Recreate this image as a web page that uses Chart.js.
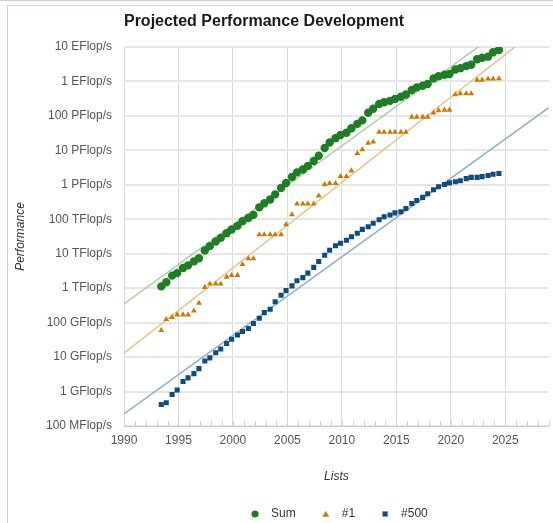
<!DOCTYPE html>
<html><head><meta charset="utf-8">
<script src="https://cdn.jsdelivr.net/npm/chart.js@4.4.0/dist/chart.umd.min.js"></script>
<style>
html,body{margin:0;padding:0;background:#fff;}
#wrap{position:relative;width:553px;height:523px;overflow:hidden;}
#topline{position:absolute;left:0;top:0;width:553px;height:1px;background:#d8c8cc;}
#frame{position:absolute;left:7px;top:5px;width:600px;height:600px;border:1px solid #d2d2d2;box-sizing:border-box;}
canvas{position:absolute;left:0;top:0;}
</style></head><body>
<div id="wrap"><div id="topline"></div><div id="frame"></div><canvas id="c" width="553" height="523"></canvas></div>
<script>
// List dates (June / November lists)
const listDates = [
 1993.42,1993.88,1994.42,1994.88,1995.42,1995.88,1996.42,1996.88,1997.42,1997.88,
 1998.42,1998.88,1999.42,1999.88,2000.42,2000.88,2001.42,2001.88,2002.42,2002.88,
 2003.42,2003.88,2004.42,2004.88,2005.42,2005.88,2006.42,2006.88,2007.42,2007.88,
 2008.42,2008.88,2009.42,2009.88,2010.42,2010.88,2011.42,2011.88,2012.42,2012.88,
 2013.42,2013.88,2014.42,2014.88,2015.42,2015.88,2016.42,2016.88,2017.42,2017.88,
 2018.42,2018.88,2019.42,2019.88,2020.42,2020.88,2021.42,2021.88,2022.42,2022.88,
 2023.42,2023.88,2024.42
];
// Values in GFlop/s
const sumValues = [
 1128,1493,2317,2732,3850,4600,6000,7400,12400,16600,
 22600,28800,39200,50400,64200,88000,108500,134000,222000,293000,
 374000,528000,813000,1127000,1690000,2300000,2790000,3540000,4920000,6970000,
 11700000,16950000,22600000,27950000,32400000,43700000,58900000,74200000,123000000,162000000,
 223000000,250000000,274000000,309000000,361000000,420000000,566000000,672000000,749000000,845000000,
 1220000000,1417000000,1560000000,1650000000,2220000000,2430000000,2790000000,3040000000,4400000000,4860000000,
 5240000000,7010000000,8210000000
];
const top1Values = [
 59.7,124,143.4,170,170,170,220.4,368.2,1068,1338,
 1338,1338,2121,2379,2379,4938,7226,7226,35860,35860,
 35860,35860,35860,70720,136800,280600,280600,280600,280600,478200,
 1026000,1105000,1105000,1759000,1759000,2566000,8162000,10510000,16320000,17590000,
 33860000,33860000,33860000,33860000,33860000,33860000,93010000,93010000,93010000,93010000,
 122300000,143500000,148600000,148600000,415500000,442000000,442000000,442000000,1102000000,1102000000,
 1194000000,1194000000,1206000000
];
const top500Values = [
 0.422,0.472,0.822,1.114,1.955,2.489,3.306,4.619,7.667,9.513,
 13.39,17.12,24.73,33.08,43.82,55.1,67.78,94.3,134.3,195.8,
 245.1,403.4,624,850.6,1166,1646,2026,2737,4005,5929,
 9000,12640,17090,20050,24670,31120,39090,50900,60820,76500,
 96620,117800,133700,153400,164800,206300,286100,349300,432200,548700,
 715600,874800,1022000,1142000,1228000,1317000,1511000,1649000,1646000,1730000,
 1870000,2020000,2130000
];
// Projection (trend) lines, endpoints in GFlop/s
const trendYears = [1990, 2029];
const trendSum = [349, 3.09e11];
const trendTop1 = [13.06, 5.89e10];
const trendTop500 = [0.224, 1.74e8];

const xTickValues = [1990,1995,2000,2005,2010,2015,2020,2025];
const yTickValues = [0.1,1,10,100,1e3,1e4,1e5,1e6,1e7,1e8,1e9,1e10];
const yTickLabels = ['100 MFlop/s','1 GFlop/s','10 GFlop/s','100 GFlop/s','1 TFlop/s','10 TFlop/s',
 '100 TFlop/s','1 PFlop/s','10 PFlop/s','100 PFlop/s','1 EFlop/s','10 EFlop/s'];
const seriesLabels = ['Sum','#1','#500'];
const chartTitle = 'Projected Performance Development';

const C_SUM = '#1f7d24', C_TOP1 = '#cc7a00', C_500 = '#0f4c81';

function makeIcon(kind, color) {
  const c = document.createElement('canvas'); c.width = 10; c.height = 10;
  const g = c.getContext('2d'); g.fillStyle = color; g.beginPath();
  if (kind === 'circle') { g.arc(5, 5, 3.6, 0, Math.PI * 2); }
  else if (kind === 'triangle') { g.moveTo(5, 1.8); g.lineTo(8.4, 7.8); g.lineTo(1.6, 7.8); g.closePath(); }
  else { g.rect(2.4, 2.4, 5.2, 5.2); }
  g.fill();
  return c;
}
const legendIcons = [makeIcon('circle', C_SUM), makeIcon('triangle', C_TOP1), makeIcon('rect', C_500)];

const pts = (xs, ys) => ys.map((v, i) => ({x: xs[i], y: v}));

const decor = {
  id: 'decor',
  beforeDatasetsDraw(chart) {
    const {ctx, chartArea, scales: {x}} = chart;
    ctx.save();
    ctx.strokeStyle = '#cfcfcf'; ctx.lineWidth = 1;
    for (let yr = Math.ceil(x.min); yr <= x.max; yr++) {
      const px = Math.round(x.getPixelForValue(yr)) + 0.5;
      ctx.beginPath(); ctx.moveTo(px, chartArea.bottom); ctx.lineTo(px, chartArea.bottom - 5); ctx.stroke();
    }
    ctx.restore();
  },
  afterDraw(chart) {
    const ctx = chart.ctx;
    ctx.save();
    ctx.font = 'bold 16px "Liberation Sans", Arial, sans-serif';
    ctx.fillStyle = '#1a1a1a'; ctx.textAlign = 'center'; ctx.textBaseline = 'alphabetic';
    ctx.fillText(chartTitle, 264, 25.5);
    ctx.restore();
  }
};

Chart.defaults.font.family = '"Liberation Sans", Arial, sans-serif';

new Chart(document.getElementById('c'), {
  type: 'scatter',
  data: { datasets: [
    { label: seriesLabels[0], data: pts(listDates, sumValues), pointStyle: 'circle', pointRadius: 4.2,
      backgroundColor: C_SUM, borderColor: C_SUM, borderWidth: 0, pointBorderWidth: 0, order: 0 },
    { label: seriesLabels[1], data: pts(listDates, top1Values), pointStyle: 'triangle', pointRadius: 3.4,
      backgroundColor: C_TOP1, borderColor: C_TOP1, borderWidth: 0, pointBorderWidth: 0, order: 0 },
    { label: seriesLabels[2], data: pts(listDates, top500Values), pointStyle: 'rect', pointRadius: 3.6,
      backgroundColor: C_500, borderColor: C_500, borderWidth: 0, pointBorderWidth: 0, order: 0 },
    { label: 'Sum trend', data: pts(trendYears, trendSum), showLine: true, pointRadius: 0,
      borderColor: '#a6d3a6', borderWidth: 1.5, order: 1 },
    { label: '#1 trend', data: pts(trendYears, trendTop1), showLine: true, pointRadius: 0,
      borderColor: '#e9c28e', borderWidth: 1.5, order: 1 },
    { label: '#500 trend', data: pts(trendYears, trendTop500), showLine: true, pointRadius: 0,
      borderColor: '#90afca', borderWidth: 1.5, order: 1 }
  ]},
  options: {
    responsive: false, animation: false, devicePixelRatio: 1,
    layout: { padding: { top: 47, right: 4, bottom: -7, left: 0 } },
    plugins: {
      title: { display: false },
      tooltip: { enabled: false },
      legend: {
        position: 'bottom', fullSize: false,
        labels: {
          usePointStyle: true, pointStyleWidth: 20, padding: 20, color: '#333', font: { size: 12 },
          filter: (item) => item.datasetIndex < 3,
          generateLabels: (chart) => Chart.defaults.plugins.legend.labels.generateLabels(chart)
            .map(it => Object.assign({}, it, { pointStyle: legendIcons[it.datasetIndex] || it.pointStyle }))
        }
      }
    },
    scales: {
      x: {
        type: 'linear', min: 1990, max: 2029,
        afterBuildTicks: (s) => { s.ticks = xTickValues.map(v => ({ value: v })); },
        afterFit: (s) => { s.height = 62; },
        grid: { color: '#dadada', lineWidth: 1, drawTicks: false },
        border: { color: '#cccccc', width: 1 },
        ticks: { padding: 7, color: '#555', font: { size: 12 }, maxRotation: 0, callback: (v) => String(v) },
        title: { display: true, text: 'Lists', color: '#333', font: { size: 12, style: 'italic' }, padding: { top: 0, bottom: 4 } }
      },
      y: {
        type: 'logarithmic', min: 0.1, max: 1e10,
        afterBuildTicks: (s) => { s.ticks = yTickValues.map(v => ({ value: v })); },
        afterFit: (s) => { s.width = 124; },
        grid: { color: '#e6e6e6', lineWidth: 2, drawTicks: false },
        border: { display: false },
        ticks: { padding: 12, color: '#555', font: { size: 12 }, callback: (v, i) => yTickLabels[i] },
        title: { display: true, text: 'Performance', color: '#333', font: { size: 12, style: 'italic' }, padding: { top: 13, bottom: 0 } }
      }
    }
  },
  plugins: [decor]
});
</script>
</body></html>
